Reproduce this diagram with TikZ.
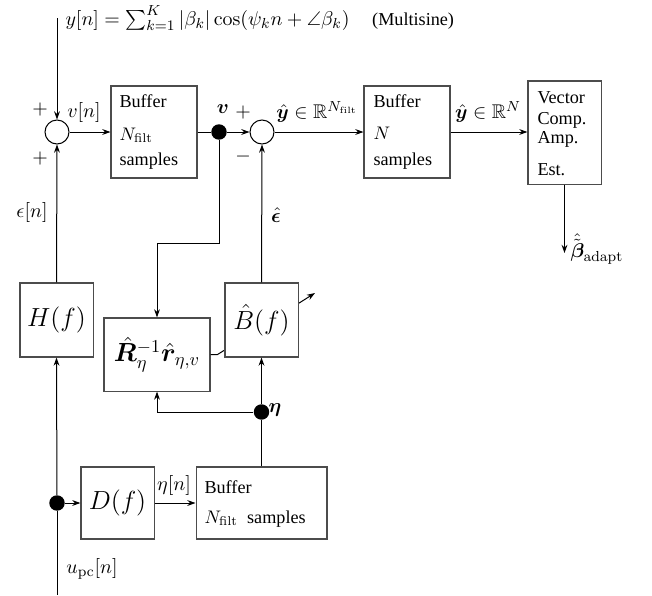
\documentclass[tikz,border=0pt]{standalone}
\usepackage{amsmath,amssymb,bm}
\usepackage[no-math]{fontspec}
\setmainfont{Liberation Serif}
\usetikzlibrary{arrows.meta}
\begin{document}
\begin{tikzpicture}[x=0.55pt,y=-0.55pt,
  font=\fontsize{10}{12}\selectfont,
  line width=0.55pt,
  >={Stealth[length=4.5pt,width=3.2pt]},
  blk/.style={draw=black!70,fill=white,inner sep=0pt,line width=0.6pt},
  sumc/.style={draw,circle,minimum size=13.2pt,inner sep=0pt,fill=white},
  dotc/.style={fill,circle,minimum size=8.5pt,inner sep=0pt},
  lbl/.style={inner sep=0pt,font=\fontsize{10.9}{13}\selectfont},
  txt/.style={anchor=base west,inner sep=0pt},
  big/.style={font=\fontsize{14.4}{17}\selectfont}]
\useasboundingbox (0,0) rectangle (652,595);

% summing junctions and dots
\node[sumc] (sum1) at (57,132) {};
\node[sumc] (sum2) at (262,132) {};
\node[dotc] (dot1) at (219,132) {};
\node[dotc] (etadot) at (261.5,412) {};
\node[dotc] (dot2) at (57,503) {};
\coordinate (ytop) at (57,18);
\coordinate (bottom) at (57,595);
\coordinate (betaend) at (564.5,253);
\coordinate (turn1) at (157,243);
\coordinate (adaptend) at (315,293);

% adaptation arrow (drawn first so the box hides its middle)
\node[blk,minimum width=58.3pt,minimum height=40.2pt] (R) at (157,354.5) {};
\draw[->] (R.east) -- ++(7,0) -- (adaptend);

% blocks
\node[blk,minimum width=47.3pt,minimum height=50.6pt] (buf1) at (154,132) {};
\node[blk,minimum width=47.3pt,minimum height=50.6pt] (buf2) at (407,132) {};
\node[blk,minimum width=40.2pt,minimum height=56.7pt] (vec) at (564.5,132.5) {};
\node[blk,minimum width=40.2pt,minimum height=40.7pt,big] (H) at (56.5,320) {$H(f)$};
\node[blk,minimum width=40.2pt,minimum height=40.7pt,big] (B) at (261.5,320) {$\hat{B}(f)$};
\node[blk,minimum width=40.2pt,minimum height=39.6pt,big] (D) at (117.5,503) {$D(f)$};
\node[blk,minimum width=72pt,minimum height=39.6pt] (buf3) at (261.5,503) {};
\node[inner sep=0pt,big] (Rtxt) at (R.center) {$\hat{\bm{R}}_{\eta}^{-1}\hat{\bm{r}}_{\eta,v}$};

% block texts
\node[txt] (b1a) at (119,107) {Buffer};
\node[txt] (b1b) at (119,140) {$N_{\mathrm{filt}}$};
\node[txt] (b1c) at (119,165) {samples};
\node[txt] (b2a) at (373,107) {Buffer};
\node[txt] (b2b) at (373,139) {$N$};
\node[txt] (b2c) at (373,165) {samples};
\node[txt] (v1) at (537,103) {Vector};
\node[txt] (v2) at (537,124) {Comp.};
\node[txt] (v3) at (537,143) {Amp.};
\node[txt] (v4) at (537,175) {Est.};
\node[txt] (b3a) at (204,493) {Buffer};
\node[txt] (b3b) at (204,523) {$N_{\mathrm{filt}}$\ \ samples};

% connectors
\draw[->] (ytop) -- (sum1.north);
\draw[->] (sum1) -- (buf1.west);
\draw (buf1.east) -- (dot1);
\draw[->] (dot1) -- (sum2.west);
\draw[->] (sum2) -- (buf2.west);
\draw[->] (buf2.east) -- (vec.west |- buf2.east);
\draw[->] (vec.south) -- (betaend);
\draw[->] (dot1) |- (turn1) -- (R.north);
\draw[->] (B.north) -- (sum2.south);
\draw[->] (H.north) -- (sum1.south);
\draw[->] (etadot) -- (B.south);
\draw[->] (etadot) -| (R.south);
\draw (buf3.north) -- (etadot);
\draw[->] (dot2) -- (H.south);
\draw[->] (dot2) -- (D.west);
\draw (dot2) -- (bottom);
\draw[->] (D.east) -- (buf3.west);

% labels
\node[txt] (ytxt) at (65,25) {\fontsize{10.9}{13}\selectfont$y[n]=\sum_{k=1}^{K}|\beta_k|\cos(\psi_k n+\angle\beta_k)$\hspace{12.5pt}\fontsize{10}{12}\selectfont(Multisine)};
\node[lbl] (p1) at (40,110) {$+$};
\node[lbl] (p2) at (40,159) {$+$};
\node[lbl] (p3) at (243,113) {$+$};
\node[lbl] (m1) at (243,157) {$-$};
\node[lbl] (vn) at (84,113) {$v[n]$};
\node[lbl] (vb) at (223,109) {$\bm{v}$};
\node[lbl] (yh1) at (317,112) {$\hat{\bm{y}}\in\mathbb{R}^{N_{\mathrm{filt}}}$};
\node[lbl] (yh2) at (488,112) {$\hat{\bm{y}}\in\mathbb{R}^{N}$};
\node[lbl,anchor=west] (beta) at (570,249) {$\hat{\tilde{\bm{\beta}}}_{\mathrm{adapt}}$};
\node[lbl] (epsn) at (32,213) {$\epsilon[n]$};
\node[lbl] (epsh) at (276,215) {$\hat{\bm{\epsilon}}$};
\node[lbl,anchor=west] (etal) at (268,410) {$\bm{\eta}$};
\node[lbl] (etan) at (174,486) {$\eta[n]$};
\node[lbl] (upc) at (92,569) {$u_{\mathrm{pc}}[n]$};
\end{tikzpicture}
\end{document}
